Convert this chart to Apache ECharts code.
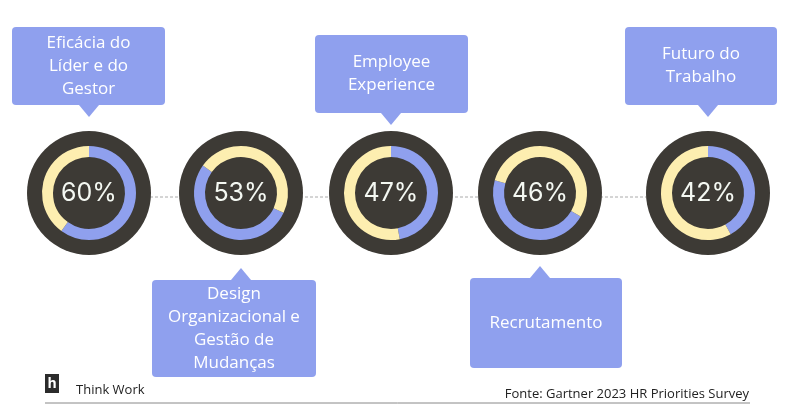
<!DOCTYPE html><html><head><meta charset="utf-8"><script src="https://cdn.jsdelivr.net/npm/echarts@6/dist/echarts.min.js"></script>
<style>html,body{margin:0;background:#fff}#c{width:790px;height:415px}</style></head><body><div id="c"></div><script>
const categories=['Eficácia do\nLíder e do\nGestor','Design\nOrganizacional e\nGestão de\nMudanças','Employee\nExperience','Recrutamento','Futuro do\nTrabalho'];
const values=[60,53,47,46,42];
const startAngles=[90,-25,90,-30,90];
const cx=[89,241,391,540,708], cy=193;
const boxes=[[12,27,153,78,'down'],[152,280,164,97,'up'],[315,35,153,78,'down'],[470,278,152,90,'up'],[625,27,152,78,'down']];
const BLUE='#8fa0ee',YEL='#fdeeb0',DARK='#3d3a35';
const series=[];
values.forEach((v,i)=>{
 series.push({type:'pie',silent:true,center:[cx[i],cy],radius:[0,62],label:{show:false},itemStyle:{color:DARK},data:[1]});
 series.push({type:'pie',silent:true,center:[cx[i],cy],radius:[36,47],startAngle:startAngles[i],label:{show:true,position:'center',formatter:v+'%',color:'#f4f8f2',fontSize:25,fontFamily:'Inter'},
  emphasis:{disabled:true},data:[{value:v,itemStyle:{color:BLUE},label:{show:true}},{value:100-v,itemStyle:{color:YEL},label:{show:false}}]});
});
const g=[{type:'line',z:-1,shape:{x1:150,y1:197,x2:650,y2:197},style:{stroke:'#aaa',lineDash:[3,2],lineWidth:1}}];
boxes.forEach((b,i)=>{
 const [x,y,w,h,d]=b, px=cx[i];
 g.push({type:'rect',shape:{x,y,width:w,height:h,r:4},style:{fill:BLUE}});
 const pts=d==='down'?[[px-10,y+h],[px+10,y+h],[px,y+h+12]]:[[px-10,y],[px+10,y],[px,y-12]];
 g.push({type:'polygon',shape:{points:pts},style:{fill:BLUE}});
 g.push({type:'text',x:x+w/2,y:y+h/2,style:{text:categories[i],fill:'#fff',font:'17px "Open Sans"',align:'center',verticalAlign:'middle',lineHeight:23}});
});
g.push({type:'rect',shape:{x:45,y:374,width:14,height:19},style:{fill:'#2b2b2b'}});
g.push({type:'text',x:52,y:384,style:{text:'h',fill:'#fff',font:'bold 14px "Open Sans"',align:'center',verticalAlign:'middle'}});
g.push({type:'text',x:76,y:390,style:{text:'Think Work',fill:'#222',font:'13px "Open Sans"',verticalAlign:'middle'}});
g.push({type:'text',x:749,y:394,style:{text:'Fonte: Gartner 2023 HR Priorities Survey',fill:'#222',font:'13px "Open Sans"',align:'right',verticalAlign:'middle'}});
g.push({type:'line',shape:{x1:45,y1:403,x2:750,y2:403},style:{stroke:'#888',lineWidth:1}});
const ch=echarts.init(document.getElementById('c'));
ch.setOption({animation:false,series,graphic:g});
</script></body></html>
